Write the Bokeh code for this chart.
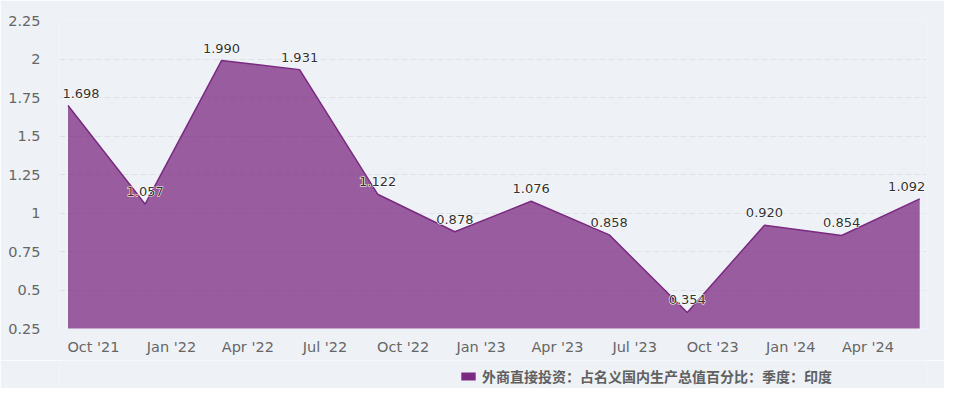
import pandas as pd
from bokeh.plotting import figure
from bokeh.layouts import column
from bokeh.core.properties import value
from bokeh.models import (ColumnDataSource, FixedTicker, DatetimeTickFormatter,
                          CustomJSTickFormatter, Range1d, Legend, LegendItem)
from bokeh.embed import file_html
from bokeh.resources import INLINE

# ---- data ----
dates = ["2021-09-01", "2021-12-01", "2022-03-01", "2022-06-01", "2022-09-01", "2022-12-01",
         "2023-03-01", "2023-06-01", "2023-09-01", "2023-12-01", "2024-03-01", "2024-06-01"]
values = [1.698, 1.057, 1.990, 1.931, 1.122, 0.878, 1.076, 0.858, 0.354, 0.920, 0.854, 1.092]
x_tick_dates = ["2021-10-01", "2022-01-01", "2022-04-01", "2022-07-01", "2022-10-01", "2023-01-01",
                "2023-04-01", "2023-07-01", "2023-10-01", "2024-01-01", "2024-04-01"]
y_ticks = [0.25, 0.5, 0.75, 1.0, 1.25, 1.5, 1.75, 2.0, 2.25]
series_name = "外商直接投资：占名义国内生产总值百分比：季度：印度"

BG = "#eef2f6"
PURPLE = "#7b2a82"

x = pd.to_datetime(dates)
labels = [f"{v:.3f}" for v in values]
x_off = [0] * len(values)
x_off[0] = 13    # keep first label inside plot area
x_off[-1] = -13  # keep last label inside plot area
src = ColumnDataSource(dict(x=x, y=values, lab=labels, xo=x_off))

p = figure(x_axis_type="datetime", output_backend="svg", toolbar_location=None,
           width=944, height=360,
           min_border_left=59, min_border_right=18, min_border_top=20, min_border_bottom=32,
           background_fill_color=BG, border_fill_color=BG)
p.outline_line_color = None

x0 = x[0] - pd.Timedelta(days=10)
x1 = x[-1] + pd.Timedelta(days=8)
p.x_range = Range1d(x0, x1)
p.y_range = Range1d(0.25, 2.25)

p.varea(x="x", y1=0, y2="y", source=src, fill_color=PURPLE, fill_alpha=0.75)
p.line(x="x", y="y", source=src, line_color=PURPLE, line_width=1.5)

common = dict(x="x", y="y", text="lab", source=src, x_offset="xo", y_offset=-12.5,
              text_align="center", text_baseline="middle", text_font_size="13px",
              text_font=value("DejaVu Sans"))
p.text(text_color="white", text_outline_color="white", **common)
p.text(text_color="#333333", **common)

# axes
xt = [int(pd.Timestamp(d).value // 10**6) for d in x_tick_dates]
p.xaxis.ticker = FixedTicker(ticks=xt)
fmt = "%b '%y"
p.xaxis.formatter = DatetimeTickFormatter(days=fmt, months=fmt, years=fmt, hours=fmt,
                                          minutes=fmt, seconds=fmt, milliseconds=fmt,
                                          microseconds=fmt, minsec=fmt, hourmin=fmt)
p.yaxis.ticker = FixedTicker(ticks=y_ticks)
p.yaxis.formatter = CustomJSTickFormatter(code="return String(+tick.toFixed(2));")
for ax in (p.xaxis[0], p.yaxis[0]):
    ax.axis_line_color = None
    ax.major_tick_line_color = None
    ax.minor_tick_line_color = None
    ax.major_label_text_color = "#666666"
    ax.major_label_text_font = "DejaVu Sans"
    ax.major_label_text_font_size = "14.5px"
p.yaxis.major_label_standoff = 13
p.xaxis.major_label_standoff = 4

p.xgrid.grid_line_color = None
p.ygrid.grid_line_color = "#dde2e8"
p.ygrid.grid_line_dash = "6 3"
p.ygrid.ticker = FixedTicker(ticks=y_ticks)

# legend strip (separate small figure under the chart)
lg = figure(output_backend="svg", toolbar_location=None, width=944, height=28,
            min_border=0, x_axis_location=None, y_axis_location=None,
            x_range=Range1d(0, 1), y_range=Range1d(0, 1),
            background_fill_color=BG, border_fill_color=BG)
lg.outline_line_color = None
lg.grid.visible = False
# zero-size helper renderer: only supplies the legend swatch style
sw = lg.quad(left=[0], right=[0], top=[0], bottom=[0], fill_color=PURPLE, line_color=None)
legend = Legend(items=[LegendItem(label=series_name, renderers=[sw])],
                location=(400, 2), orientation="horizontal",
                glyph_width=18, glyph_height=10, label_standoff=5,
                label_text_font="Noto Sans CJK SC", label_text_font_size="14px",
                label_text_font_style="bold", label_text_color="#606060",
                background_fill_alpha=0, border_line_color=None,
                padding=0, margin=0, spacing=0, label_height=16)
lg.add_layout(legend, "center")

layout = column(p, lg, spacing=0)
open("out.html", "w").write(file_html(layout, INLINE))
